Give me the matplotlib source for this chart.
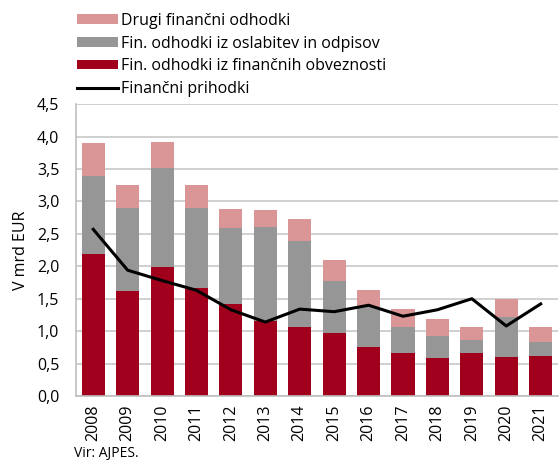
import matplotlib
matplotlib.use('Agg')
import matplotlib.pyplot as plt
import numpy as np

plt.rcParams['font.family'] = ['Open Sans', 'DejaVu Sans']
plt.rcParams['font.size'] = 11.5

years = ['2008', '2009', '2010', '2011', '2012', '2013', '2014',
         '2015', '2016', '2017', '2018', '2019', '2020', '2021']
# stacked components (mrd EUR)
fin_obveznosti = [2.19, 1.62, 1.99, 1.66, 1.42, 1.16, 1.07,
                  0.97, 0.76, 0.66, 0.59, 0.66, 0.60, 0.62]
oslabitve = [1.21, 1.28, 1.52, 1.24, 1.17, 1.44, 1.32,
             0.81, 0.61, 0.40, 0.33, 0.21, 0.62, 0.21]
drugi = [0.50, 0.35, 0.40, 0.36, 0.29, 0.27, 0.34,
         0.32, 0.26, 0.28, 0.26, 0.19, 0.27, 0.24]
prihodki = [2.57, 1.94, 1.78, 1.63, 1.33, 1.14, 1.34,
            1.30, 1.40, 1.23, 1.33, 1.50, 1.08, 1.42]

c_red = '#A1001C'
c_gray = '#969696'
c_pink = '#DA9696'

fig = plt.figure(figsize=(5.59, 4.61), dpi=100)
ax = fig.add_axes([0.136, 0.141, 0.862, 0.633])

x = np.arange(len(years))
w = 0.67
b1 = np.array(fin_obveznosti)
b2 = b1 + np.array(oslabitve)
bar_red = ax.bar(x, fin_obveznosti, w, color=c_red, zorder=2)
bar_gray = ax.bar(x, oslabitve, w, bottom=b1, color=c_gray, zorder=2)
bar_pink = ax.bar(x, drugi, w, bottom=b2, color=c_pink, zorder=2)
line, = ax.plot(x, prihodki, color='black', lw=2.2, zorder=3)

ax.set_xlim(-0.5, len(years) - 0.5)
ax.set_ylim(0, 4.5)
ax.set_yticks(np.arange(0, 4.51, 0.5))
ax.set_yticklabels([f'{v:.1f}'.replace('.', ',') for v in np.arange(0, 4.51, 0.5)])
ax.set_xticks(x)
ax.set_xticklabels(years, rotation=90)
ax.tick_params(axis='x', length=0, pad=6)
ax.tick_params(axis='y', length=0, pad=12)
ax.yaxis.grid(True, color='#C8C8C8', lw=1.2, zorder=0)
ax.set_axisbelow(True)
for s in ['top', 'right']:
    ax.spines[s].set_visible(False)
for s in ['left', 'bottom']:
    ax.spines[s].set_color('#BFBFBF')
    ax.spines[s].set_linewidth(1.2)
ax.set_ylabel('V mrd EUR', labelpad=6)

ax.legend([bar_pink, bar_gray, bar_red, line],
          ['Drugi finančni odhodki', 'Fin. odhodki iz oslabitev in odpisov',
           'Fin. odhodki iz finančnih obveznosti', 'Finančni prihodki'],
          loc='upper left', bbox_to_anchor=(0.137, 0.972),
          bbox_transform=fig.transFigure, frameon=False,
          handlelength=2.6, handleheight=0.55, handletextpad=0.15,
          labelspacing=0.42, borderaxespad=0, borderpad=0)

fig.text(0.132, 0.008, 'Vir: AJPES.', fontsize=10)

plt.savefig('out.png', dpi=100, facecolor='white')
plt.close()
